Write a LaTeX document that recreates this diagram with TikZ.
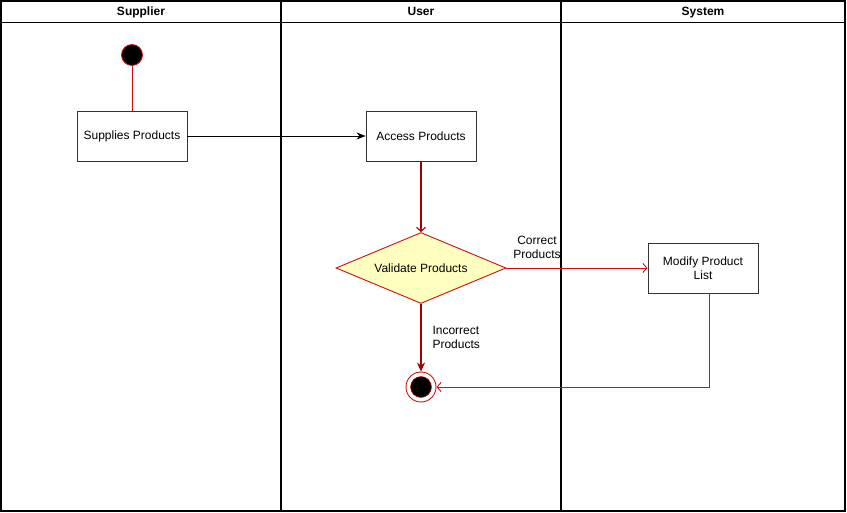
\documentclass[tikz,border=0pt]{standalone}
\usepackage{fontspec}
\setmainfont{Liberation Sans}
\usetikzlibrary{shapes.geometric,arrows.meta}
\definecolor{flowred}{HTML}{D01010}
\definecolor{deepred}{HTML}{A00000}
\definecolor{notefill}{HTML}{FFFFC0}
\tikzset{
  lanehead/.style={font=\fontsize{12}{14}\selectfont\bfseries,anchor=base},
  action/.style={draw=black!80,line width=0.9pt,minimum width=110pt,minimum height=50pt,
    inner sep=2pt,align=center,font=\fontsize{12}{14}\selectfont},
  guard/.style={font=\fontsize{12}{14}\selectfont},
  openarrow/.style={-{Straight Barb[length=4pt,width=9pt]}},
}
\begin{document}
\begin{tikzpicture}[x=1pt,y=-1pt]
		\useasboundingbox (0,0) rectangle (847,513);
		% swimlanes
		\draw[line width=1.3pt] (1,1) rectangle (845,511);
		\draw[line width=1pt] (1,23) -- (845,23);
		\draw[line width=1.2pt] (281,1) -- (281,511);
		\draw[line width=1.2pt] (561,1) -- (561,511);
		\node[lanehead] (supplier) at (141,16) {Supplier};
		\node[lanehead] (user) at (421,16) {User};
		\node[lanehead] (system) at (703,16) {System};
		% activities
		\node[circle,fill=black,draw=flowred,line width=0.8pt,minimum size=21pt,inner sep=0pt] (start) at (132,55) {};
		\node[action] (supply) at (132,136) {Supplies Products};
		\node[action] (access) at (421,136) {Access Products};
		\node[diamond,draw=flowred,fill=notefill,line width=0.9pt,minimum width=170pt,minimum height=71pt,
			aspect=2.4,inner sep=1pt,font=\fontsize{12}{14}\selectfont] (validate) at (421,268) {Validate Products};
		\node[action] (modify) at (703,268) {Modify Product\\List};
		\node[circle,draw=flowred,line width=0.9pt,minimum size=30pt,inner sep=0pt] (final) at (421,387) {};
		\node[circle,fill=black,draw=flowred,line width=0.5pt,minimum size=21pt,inner sep=0pt] (finaldot) at (final) {};
		% flows
		\draw[flowred,line width=0.9pt] (start) -- (supply);
		\draw[black,line width=0.8pt,-{Stealth[length=9pt,width=7pt]}] (supply) -- (access);
		\draw[deepred,line width=1.1pt,openarrow] (access) -- (validate);
		\draw[flowred,line width=0.9pt,openarrow] (validate) -- (modify);
		\draw[deepred,line width=1.6pt,-{Stealth[length=9pt,width=8pt]}] (validate) -- (final);
		\draw[flowred,line width=0.9pt,openarrow] ([xshift=6pt]modify.south) |- (final);
		\node[guard,align=center] (correct) at (537,247) {Correct\\Products};
		\node[guard,align=left,anchor=west] (incorrect) at (429,337) {Incorrect\\Products};
	\end{tikzpicture}
\end{document}
